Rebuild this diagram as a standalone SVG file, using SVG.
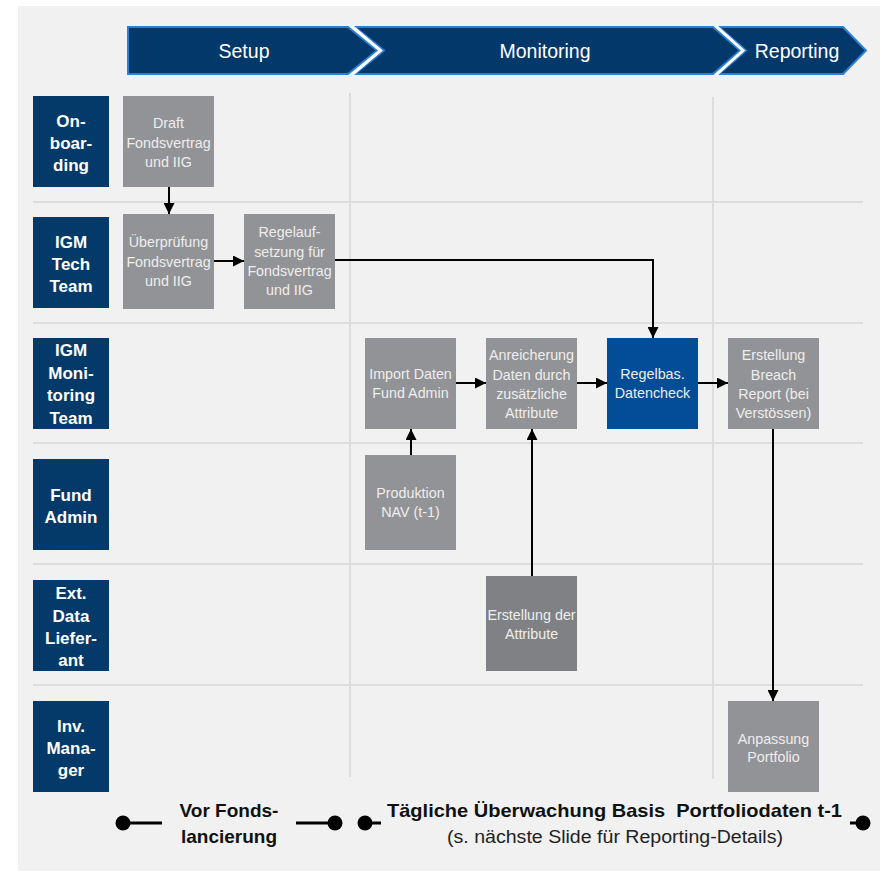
<svg xmlns="http://www.w3.org/2000/svg" width="883" height="872" viewBox="0 0 883 872">
<style>
.lane{fill:#033a6a}
.lt{font-family:"Liberation Sans",Arial,sans-serif;font-weight:bold;font-size:17px;fill:#ffffff;text-anchor:middle}
.box{fill:#929396}
.box2{fill:#808184}
.bt{font-family:"Liberation Sans",Arial,sans-serif;font-size:14.3px;fill:#eeeeee;text-anchor:middle}
.sep{stroke:#dcdddc;stroke-width:2;fill:none}
.chev{fill:#03396a;stroke:#2a7fd6;stroke-width:2}
.ct{font-family:"Liberation Sans",Arial,sans-serif;font-size:19.5px;fill:#ffffff;text-anchor:middle}
.con{stroke:#000;stroke-width:2;fill:none}
.bot{font-family:"Liberation Sans",Arial,sans-serif;font-weight:bold;font-size:19px;fill:#111;text-anchor:middle}
.botr{font-family:"Liberation Sans",Arial,sans-serif;font-size:17.5px;fill:#222;text-anchor:middle}
</style>
<defs>
<marker id="ah" markerWidth="11" markerHeight="11" refX="11" refY="5.5" orient="auto" markerUnits="userSpaceOnUse">
<path d="M0,0 L11,5.5 L0,11 Z" fill="#000"/>
</marker>
</defs>
<rect x="0" y="0" width="883" height="872" fill="#ffffff"/>
<rect x="18" y="6" width="862" height="865" fill="#f0f1f0"/>

<g id="phases">
<polygon class="chev" points="128,27 348,27 377,50.5 348,74 128,74"/>
<polygon class="chev" points="355,27 713,27 740,50.5 713,74 355,74 384,50.5"/>
<polygon class="chev" points="719,27 843,27 866,50.5 843,74 719,74 746,50.5"/>
<polyline points="351.5,26 380.5,50.5 351.5,75" stroke="#ffffff" stroke-width="3" fill="none"/>
<polyline points="716,26 743,50.5 716,75" stroke="#ffffff" stroke-width="3" fill="none"/>
<text class="ct" x="244" y="58">Setup</text>
<text class="ct" x="545" y="58">Monitoring</text>
<text class="ct" x="797" y="58">Reporting</text>
</g>

<g id="grid">
<line class="sep" x1="33" y1="202" x2="863" y2="202"/>
<line class="sep" x1="33" y1="323" x2="863" y2="323"/>
<line class="sep" x1="33" y1="443" x2="863" y2="443"/>
<line class="sep" x1="33" y1="564" x2="863" y2="564"/>
<line class="sep" x1="33" y1="685" x2="863" y2="685"/>
<line class="sep" x1="350" y1="93" x2="350" y2="777"/>
<line class="sep" x1="713" y1="97" x2="713" y2="779"/>
</g>

<g id="lane-onboarding">
<rect class="lane" x="33" y="96" width="76" height="91"/>
<text class="lt" x="71" y="127">On-</text>
<text class="lt" x="71" y="149">boar-</text>
<text class="lt" x="71" y="171">ding</text>
</g>
<g id="lane-tech">
<rect class="lane" x="33" y="217" width="76" height="91"/>
<text class="lt" x="71" y="247.5">IGM</text>
<text class="lt" x="71" y="269.5">Tech</text>
<text class="lt" x="71" y="291.5">Team</text>
</g>
<g id="lane-monitoring">
<rect class="lane" x="33" y="338" width="76" height="91"/>
<text class="lt" x="71" y="356">IGM</text>
<text class="lt" x="71" y="378.5">Moni-</text>
<text class="lt" x="71" y="401">toring</text>
<text class="lt" x="71" y="423.5">Team</text>
</g>
<g id="lane-fundadmin">
<rect class="lane" x="33" y="459" width="76" height="91"/>
<text class="lt" x="71" y="501">Fund</text>
<text class="lt" x="71" y="523">Admin</text>
</g>
<g id="lane-extdata">
<rect class="lane" x="33" y="580" width="76" height="91"/>
<text class="lt" x="71" y="599">Ext.</text>
<text class="lt" x="71" y="622">Data</text>
<text class="lt" x="71" y="644">Liefer-</text>
<text class="lt" x="71" y="666">ant</text>
</g>
<g id="lane-invmanager">
<rect class="lane" x="33" y="701" width="76" height="91"/>
<text class="lt" x="71" y="732">Inv.</text>
<text class="lt" x="71" y="754">Mana-</text>
<text class="lt" x="71" y="776">ger</text>
</g>

<g id="n-draft">
<rect class="box" x="123" y="96" width="91" height="91"/>
<text class="bt" x="168.5" y="128">Draft</text>
<text class="bt" x="168.5" y="147.5">Fondsvertrag</text>
<text class="bt" x="168.5" y="167">und IIG</text>
</g>
<g id="n-ueberpruefung">
<rect class="box" x="123" y="214" width="91" height="95"/>
<text class="bt" x="168.5" y="247">Überprüfung</text>
<text class="bt" x="168.5" y="266.5">Fondsvertrag</text>
<text class="bt" x="168.5" y="286">und IIG</text>
</g>
<g id="n-regelaufsetzung">
<rect class="box" x="244" y="214" width="91" height="95"/>
<text class="bt" x="289.5" y="237">Regelauf-</text>
<text class="bt" x="289.5" y="256.5">setzung für</text>
<text class="bt" x="289.5" y="276">Fondsvertrag</text>
<text class="bt" x="289.5" y="294.5">und IIG</text>
</g>
<g id="n-import">
<rect class="box" x="365" y="338" width="91" height="91"/>
<text class="bt" x="410.5" y="379">Import Daten</text>
<text class="bt" x="410.5" y="398">Fund Admin</text>
</g>
<g id="n-anreicherung">
<rect class="box" x="486" y="338" width="91" height="91"/>
<text class="bt" x="531.5" y="360">Anreicherung</text>
<text class="bt" x="531.5" y="379.5">Daten durch</text>
<text class="bt" x="531.5" y="399">zusätzliche</text>
<text class="bt" x="531.5" y="418">Attribute</text>
</g>
<g id="n-regelbas">
<rect x="607" y="338" width="91" height="91" fill="#034c96"/>
<text class="bt" x="652.5" y="379" fill="#ffffff">Regelbas.</text>
<text class="bt" x="652.5" y="398">Datencheck</text>
</g>
<g id="n-breach">
<rect class="box" x="728" y="338" width="91" height="91"/>
<text class="bt" x="773.5" y="360">Erstellung</text>
<text class="bt" x="773.5" y="379.5">Breach</text>
<text class="bt" x="773.5" y="399">Report (bei</text>
<text class="bt" x="773.5" y="418">Verstössen)</text>
</g>
<g id="n-produktion">
<rect class="box" x="365" y="455" width="91" height="95"/>
<text class="bt" x="410.5" y="498">Produktion</text>
<text class="bt" x="410.5" y="517">NAV (t-1)</text>
</g>
<g id="n-attribute">
<rect class="box2" x="486" y="576" width="91" height="95"/>
<text class="bt" x="531.5" y="620">Erstellung der</text>
<text class="bt" x="531.5" y="638.5">Attribute</text>
</g>
<g id="n-anpassung">
<rect class="box" x="728" y="701" width="91" height="91"/>
<text class="bt" x="773.5" y="744">Anpassung</text>
<text class="bt" x="773.5" y="762">Portfolio</text>
</g>

<g id="connectors">
<line class="con" x1="169" y1="187" x2="169" y2="214" marker-end="url(#ah)"/>
<line class="con" x1="214" y1="261" x2="244" y2="261" marker-end="url(#ah)"/>
<polyline class="con" points="335,260 653,260 653,338" marker-end="url(#ah)"/>
<line class="con" x1="411" y1="455" x2="411" y2="429" marker-end="url(#ah)"/>
<line class="con" x1="456" y1="383" x2="486" y2="383" marker-end="url(#ah)"/>
<line class="con" x1="577" y1="383" x2="607" y2="383" marker-end="url(#ah)"/>
<line class="con" x1="698" y1="383" x2="728" y2="383" marker-end="url(#ah)"/>
<line class="con" x1="532" y1="576" x2="532" y2="429" marker-end="url(#ah)"/>
<line class="con" x1="773" y1="429" x2="773" y2="701" marker-end="url(#ah)"/>
</g>

<g id="timeline">
<circle cx="123" cy="823" r="7.5" fill="#000"/>
<line x1="123" y1="823" x2="162" y2="823" stroke="#000" stroke-width="3"/>
<line x1="296" y1="823" x2="335" y2="823" stroke="#000" stroke-width="3"/>
<circle cx="335" cy="823" r="7.5" fill="#000"/>
<circle cx="365" cy="823" r="7.5" fill="#000"/>
<line x1="365" y1="823" x2="381" y2="823" stroke="#000" stroke-width="3"/>
<line x1="850" y1="823" x2="863" y2="823" stroke="#000" stroke-width="3"/>
<circle cx="863" cy="823" r="7.5" fill="#000"/>
<text class="bot" x="229" y="817">Vor Fonds-</text>
<text class="bot" x="229" y="843">lancierung</text>
<text class="bot" x="614.5" y="817" xml:space="preserve" textLength="455" lengthAdjust="spacingAndGlyphs">Tägliche Überwachung Basis  Portfoliodaten t-1</text>
<text class="botr" x="615" y="843" textLength="336" lengthAdjust="spacingAndGlyphs">(s. nächste Slide für Reporting-Details)</text>
</g>
</svg>
